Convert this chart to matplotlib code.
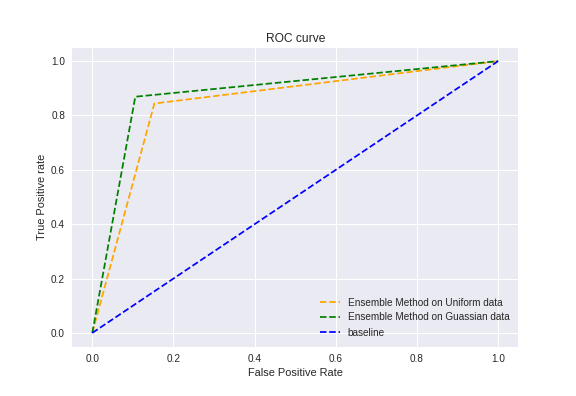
import matplotlib
matplotlib.use("Agg")
import matplotlib.pyplot as plt

plt.style.use("seaborn-v0_8")

fpr_uniform = [0.0, 0.153, 1.0]
tpr_uniform = [0.0, 0.844, 1.0]
fpr_gauss = [0.0, 0.106, 1.0]
tpr_gauss = [0.0, 0.869, 1.0]
fpr_base = [0.0, 1.0]
tpr_base = [0.0, 1.0]

fig = plt.figure(figsize=(8, 5.5), dpi=72)
fig.subplots_adjust(left=0.125, right=0.9, bottom=0.125, top=0.88)
ax = fig.add_subplot(111)
ax.plot(fpr_uniform, tpr_uniform, linestyle="--", color="orange", label="Ensemble Method on Uniform data")
ax.plot(fpr_gauss, tpr_gauss, linestyle="--", color="green", label="Ensemble Method on Guassian data")
ax.plot(fpr_base, tpr_base, linestyle="--", color="blue", label="baseline")
ax.set_title("ROC curve")
ax.set_xlabel("False Positive Rate")
ax.set_ylabel("True Positive rate")
ax.legend(loc="best")
fig.savefig("out.png", dpi=72)
